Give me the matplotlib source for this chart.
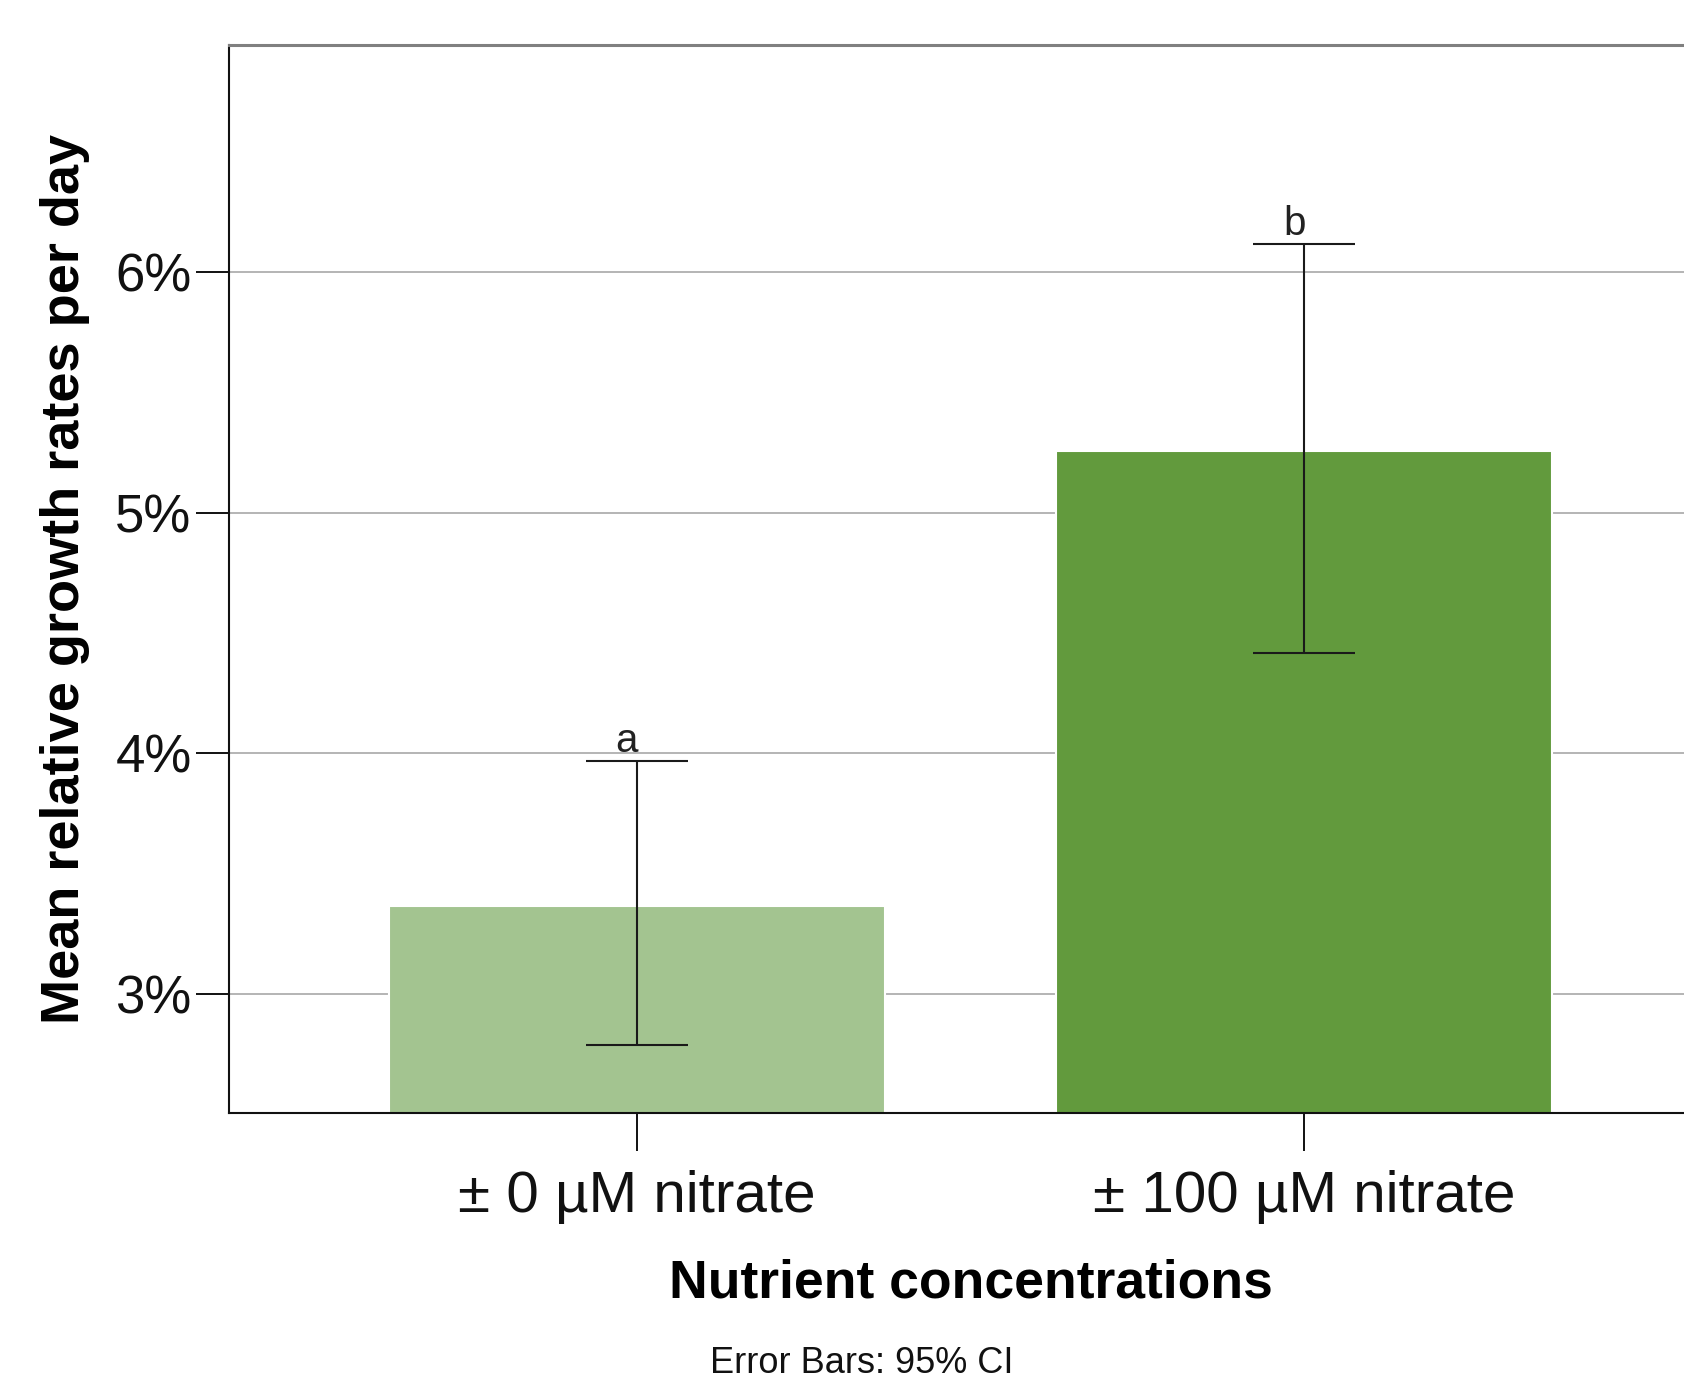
import matplotlib
matplotlib.use("Agg")
import matplotlib.pyplot as plt

plt.rcParams['font.family'] = ['Liberation Sans', 'DejaVu Sans']

# values (percent per day)
categories = ['\u00b1 0 \u00b5M nitrate', '\u00b1 100 \u00b5M nitrate']
means = [3.363, 5.256]
ci_low = [2.787, 4.417]
ci_high = [3.966, 6.116]
letters = ['a', 'b']
colors = ['#A3C490', '#629A3D']

fig = plt.figure(figsize=(16.84, 13.85), dpi=100)
# axes runs past the right edge of the picture, as in the reference
ax = fig.add_axes([229/1684, 272/1385, 1483/1684, 1068/1385])

x = list(range(len(categories)))
ax.bar(x, means, width=0.744, color=colors, bottom=0, zorder=2,
       edgecolor='white', linewidth=1.5)

yerr = [[m - lo for m, lo in zip(means, ci_low)],
        [hi - m for m, hi in zip(means, ci_high)]]
ax.errorbar(x, means, yerr=yerr, fmt='none', ecolor='#1a1a1a',
            elinewidth=1.5, capsize=37, capthick=1.5, zorder=3)

for xi, hi, lab in zip(x, ci_high, letters):
    ax.annotate(lab, (xi - 0.015, hi), xytext=(0, 7), textcoords='offset points',
                ha='center', va='baseline', fontsize=29, color='#222222', zorder=4)

ax.set_xlim(-0.611, 1.611)
ax.set_ylim(2.504, 6.945)
ax.set_yticks([3, 4, 5, 6])
ax.set_yticklabels(['3%', '4%', '5%', '6%'])
ax.set_xticks(x)
ax.set_xticklabels(categories)

ax.yaxis.grid(True, color='#b4b4b4', linewidth=1.4, zorder=1)
ax.set_axisbelow(True)

ax.tick_params(axis='y', direction='out', length=24, width=1.4, pad=3,
               labelsize=38, colors='#111111')
ax.tick_params(axis='x', direction='out', length=27, width=1.4, pad=14,
               labelsize=42, colors='#111111')

for s in ['left', 'bottom']:
    ax.spines[s].set_color('#111111')
    ax.spines[s].set_linewidth(1.5)
ax.spines['top'].set_color('#808080')
ax.spines['top'].set_linewidth(2.2)
ax.spines['right'].set_visible(False)

ax.set_xlabel('Nutrient concentrations', fontsize=38.5, fontweight='bold', labelpad=25)
ax.set_ylabel('Mean relative growth rates per day', fontsize=39, fontweight='bold',
              labelpad=18)

# footnote sits at the very bottom edge, kept just inside the picture
fig.text(862/1684, 4/1385, 'Error Bars: 95% CI', ha='center', va='bottom',
         fontsize=26, color='#111111')

fig.savefig('out.png', dpi=100, facecolor='white')
